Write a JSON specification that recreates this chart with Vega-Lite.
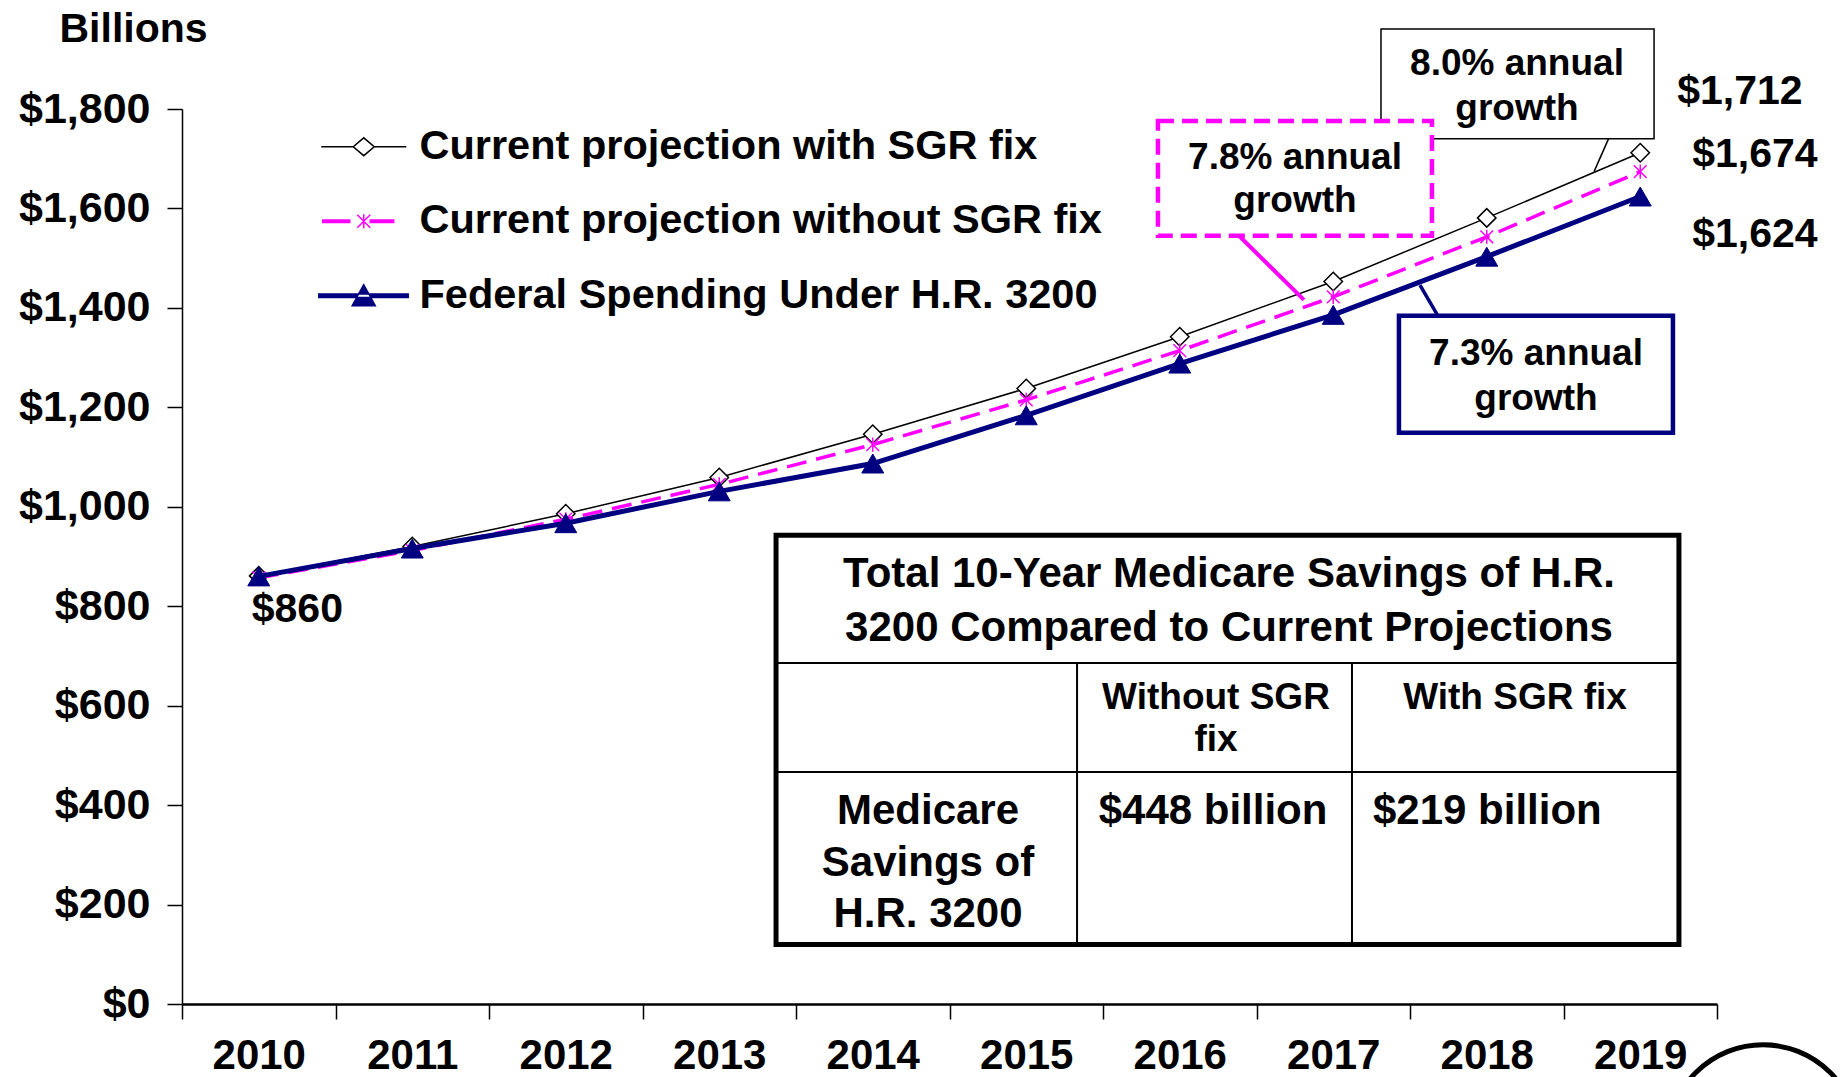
{
  "$schema": "https://vega.github.io/schema/vega-lite/v6.json",
  "width": 1535,
  "height": 895,
  "autosize": {"type": "none"},
  "padding": {"left": 182, "top": 109, "right": 126, "bottom": 73},
  "background": "white",
  "data": {"values": [
    {"year": 2010, "series": "Current projection with SGR fix", "value": 861},
    {"year": 2011, "series": "Current projection with SGR fix", "value": 920},
    {"year": 2012, "series": "Current projection with SGR fix", "value": 986},
    {"year": 2013, "series": "Current projection with SGR fix", "value": 1059},
    {"year": 2014, "series": "Current projection with SGR fix", "value": 1146},
    {"year": 2015, "series": "Current projection with SGR fix", "value": 1238},
    {"year": 2016, "series": "Current projection with SGR fix", "value": 1342},
    {"year": 2017, "series": "Current projection with SGR fix", "value": 1453},
    {"year": 2018, "series": "Current projection with SGR fix", "value": 1581},
    {"year": 2019, "series": "Current projection with SGR fix", "value": 1712},
    {"year": 2010, "series": "Current projection without SGR fix", "value": 857},
    {"year": 2011, "series": "Current projection without SGR fix", "value": 912},
    {"year": 2012, "series": "Current projection without SGR fix", "value": 975},
    {"year": 2013, "series": "Current projection without SGR fix", "value": 1045},
    {"year": 2014, "series": "Current projection without SGR fix", "value": 1125},
    {"year": 2015, "series": "Current projection without SGR fix", "value": 1215},
    {"year": 2016, "series": "Current projection without SGR fix", "value": 1314},
    {"year": 2017, "series": "Current projection without SGR fix", "value": 1422},
    {"year": 2018, "series": "Current projection without SGR fix", "value": 1543},
    {"year": 2019, "series": "Current projection without SGR fix", "value": 1674},
    {"year": 2010, "series": "Federal Spending Under H.R. 3200", "value": 860},
    {"year": 2011, "series": "Federal Spending Under H.R. 3200", "value": 916},
    {"year": 2012, "series": "Federal Spending Under H.R. 3200", "value": 967},
    {"year": 2013, "series": "Federal Spending Under H.R. 3200", "value": 1031},
    {"year": 2014, "series": "Federal Spending Under H.R. 3200", "value": 1087},
    {"year": 2015, "series": "Federal Spending Under H.R. 3200", "value": 1184},
    {"year": 2016, "series": "Federal Spending Under H.R. 3200", "value": 1288},
    {"year": 2017, "series": "Federal Spending Under H.R. 3200", "value": 1386},
    {"year": 2018, "series": "Federal Spending Under H.R. 3200", "value": 1503},
    {"year": 2019, "series": "Federal Spending Under H.R. 3200", "value": 1624}
  ]},
  "encoding": {
    "x": {
      "field": "year", "type": "quantitative",
      "scale": {"domain": [2009.5, 2019.5], "nice": false, "zero": false},
      "axis": {
        "title": null,
        "values": [2009.5, 2010.5, 2011.5, 2012.5, 2013.5, 2014.5, 2015.5, 2016.5, 2017.5, 2018.5, 2019.5],
        "labelExpr": "datum.value > 2019 ? '' : '' + (datum.value + 0.5)",
        "labelOffset": 76.75,
        "labelAlign": "center",
        "labelBaseline": "top",
        "labelPadding": 16,
        "labelFontSize": 42,
        "labelFontWeight": "bold",
        "labelFont": "Liberation Sans",
        "labelColor": "black",
        "labelFlush": false,
        "labelOverlap": false,
        "labelBound": false,
        "tickSize": 15,
        "tickWidth": 1.5,
        "tickColor": "black",
        "domainColor": "black",
        "domainWidth": 2.5,
        "grid": false
      }
    },
    "y": {
      "field": "value", "type": "quantitative",
      "scale": {"domain": [0, 1800], "nice": false},
      "axis": {
        "title": "Billions",
        "titleAngle": 0,
        "titleX": -123,
        "titleY": -80,
        "titleAlign": "left",
        "titleBaseline": "middle",
        "titleFontSize": 41,
        "titleFontWeight": "bold",
        "titleFont": "Liberation Sans",
        "titleColor": "black",
        "values": [0, 200, 400, 600, 800, 1000, 1200, 1400, 1600, 1800],
        "format": "$,d",
        "labelFontSize": 43,
        "labelFontWeight": "bold",
        "labelFont": "Liberation Sans",
        "labelColor": "black",
        "labelPadding": 17,
        "labelFlush": false,
        "labelOverlap": false,
        "labelBound": false,
        "tickSize": 15,
        "tickWidth": 1.5,
        "tickColor": "black",
        "domainColor": "black",
        "domainWidth": 1.5,
        "grid": false
      }
    }
  },
  "layer": [
    {
      "transform": [{"filter": "datum.series === 'Current projection with SGR fix'"}],
      "mark": {"type": "line", "color": "black", "strokeWidth": 1.5}
    },
    {
      "transform": [{"filter": "datum.series === 'Current projection with SGR fix'"}],
      "mark": {"type": "point", "shape": "diamond", "size": 340, "filled": true, "fill": "white", "stroke": "black", "strokeWidth": 1.5, "opacity": 1}
    },
    {
      "transform": [{"filter": "datum.series === 'Current projection without SGR fix'"}],
      "mark": {"type": "line", "color": "#FF00FF", "strokeWidth": 3.5, "strokeDash": [20, 10]}
    },
    {
      "transform": [{"filter": "datum.series === 'Current projection without SGR fix'"}],
      "mark": {"type": "point", "shape": "M0,-1V1M-0.9,-0.9L0.9,0.9M-0.9,0.9L0.9,-0.9", "size": 200, "filled": false, "stroke": "#FF00FF", "strokeWidth": 1.5, "opacity": 1}
    },
    {
      "transform": [{"filter": "datum.series === 'Federal Spending Under H.R. 3200'"}],
      "mark": {"type": "line", "color": "#000080", "strokeWidth": 5}
    },
    {
      "transform": [{"filter": "datum.series === 'Federal Spending Under H.R. 3200'"}],
      "mark": {"type": "point", "shape": "triangle-up", "size": 480, "filled": true, "fill": "#000080", "stroke": "#000080", "strokeWidth": 1, "opacity": 1}
    },
    {
      "transform": [{"filter": "datum.year === 2010 && datum.series === 'Federal Spending Under H.R. 3200'"}],
      "mark": {"type": "text", "align": "left", "baseline": "middle", "dx": -7, "dy": 34, "fontSize": 41, "fontWeight": "bold", "font": "Liberation Sans", "color": "black"},
      "encoding": {"text": {"field": "value", "type": "quantitative", "format": "$,d"}}
    },
    {
      "transform": [{"filter": "datum.year === 2019 && datum.series === 'Current projection with SGR fix'"}],
      "mark": {"type": "text", "align": "left", "baseline": "middle", "dx": 37, "dy": -61, "fontSize": 41, "fontWeight": "bold", "font": "Liberation Sans", "color": "black"},
      "encoding": {"text": {"field": "value", "type": "quantitative", "format": "$,d"}}
    },
    {
      "transform": [{"filter": "datum.year === 2019 && datum.series === 'Current projection without SGR fix'"}],
      "mark": {"type": "text", "align": "left", "baseline": "middle", "dx": 52, "dy": -17, "fontSize": 41, "fontWeight": "bold", "font": "Liberation Sans", "color": "black"},
      "encoding": {"text": {"field": "value", "type": "quantitative", "format": "$,d"}}
    },
    {
      "transform": [{"filter": "datum.year === 2019 && datum.series === 'Federal Spending Under H.R. 3200'"}],
      "mark": {"type": "text", "align": "left", "baseline": "middle", "dx": 52, "dy": 38, "fontSize": 41, "fontWeight": "bold", "font": "Liberation Sans", "color": "black"},
      "encoding": {"text": {"field": "value", "type": "quantitative", "format": "$,d"}}
    },
    {
      "transform": [{"filter": "datum.year === 2010 && datum.series === 'Federal Spending Under H.R. 3200'"}],
      "mark": {"type": "rule", "color": "black", "strokeWidth": 1.5},
      "encoding": {
        "x": {"datum": 2018.796, "type": "quantitative"}, "y": {"datum": 1742, "type": "quantitative"},
        "x2": {"datum": 2018.699}, "y2": {"datum": 1674}
      }
    },
    {
      "transform": [{"filter": "datum.year === 2010 && datum.series === 'Federal Spending Under H.R. 3200'"}],
      "mark": {"type": "rect", "fill": "white", "stroke": "black", "strokeWidth": 1.5},
      "encoding": {
        "x": {"datum": 2017.311, "type": "quantitative"}, "x2": {"datum": 2019.09},
        "y": {"datum": 1961, "type": "quantitative"}, "y2": {"datum": 1740}
      }
    },
    {
      "transform": [{"filter": "datum.year === 2010 && datum.series === 'Federal Spending Under H.R. 3200'"}],
      "mark": {"type": "text", "text": ["8.0% annual", "growth"], "align": "center", "baseline": "middle", "lineHeight": 45, "fontSize": 37, "fontWeight": "bold", "font": "Liberation Sans", "color": "black"},
      "encoding": {
        "x": {"datum": 2018.197, "type": "quantitative"}, "y": {"datum": 1891, "type": "quantitative"}
      }
    },
    {
      "transform": [{"filter": "datum.year === 2010 && datum.series === 'Federal Spending Under H.R. 3200'"}],
      "mark": {"type": "rule", "color": "#FF00FF", "strokeWidth": 4},
      "encoding": {
        "x": {"datum": 2016.386, "type": "quantitative"}, "y": {"datum": 1545, "type": "quantitative"},
        "x2": {"datum": 2016.809}, "y2": {"datum": 1416}
      }
    },
    {
      "transform": [{"filter": "datum.year === 2010 && datum.series === 'Federal Spending Under H.R. 3200'"}],
      "mark": {"type": "rect", "fill": "white", "stroke": "#FF00FF", "strokeWidth": 4.5, "strokeDash": [16, 8]},
      "encoding": {
        "x": {"datum": 2015.858, "type": "quantitative"}, "x2": {"datum": 2017.643},
        "y": {"datum": 1776, "type": "quantitative"}, "y2": {"datum": 1545}
      }
    },
    {
      "transform": [{"filter": "datum.year === 2010 && datum.series === 'Federal Spending Under H.R. 3200'"}],
      "mark": {"type": "text", "text": ["7.8% annual", "growth"], "align": "center", "baseline": "middle", "lineHeight": 43, "fontSize": 37, "fontWeight": "bold", "font": "Liberation Sans", "color": "black"},
      "encoding": {
        "x": {"datum": 2016.751, "type": "quantitative"}, "y": {"datum": 1702, "type": "quantitative"}
      }
    },
    {
      "transform": [{"filter": "datum.year === 2010 && datum.series === 'Federal Spending Under H.R. 3200'"}],
      "mark": {"type": "rule", "color": "#000080", "strokeWidth": 3.5},
      "encoding": {
        "x": {"datum": 2017.565, "type": "quantitative"}, "y": {"datum": 1446, "type": "quantitative"},
        "x2": {"datum": 2017.682}, "y2": {"datum": 1384}
      }
    },
    {
      "transform": [{"filter": "datum.year === 2010 && datum.series === 'Federal Spending Under H.R. 3200'"}],
      "mark": {"type": "rect", "fill": "white", "stroke": "#000080", "strokeWidth": 4.5},
      "encoding": {
        "x": {"datum": 2017.428, "type": "quantitative"}, "x2": {"datum": 2019.213},
        "y": {"datum": 1384, "type": "quantitative"}, "y2": {"datum": 1149}
      }
    },
    {
      "transform": [{"filter": "datum.year === 2010 && datum.series === 'Federal Spending Under H.R. 3200'"}],
      "mark": {"type": "text", "text": ["7.3% annual", "growth"], "align": "center", "baseline": "middle", "lineHeight": 45, "fontSize": 37, "fontWeight": "bold", "font": "Liberation Sans", "color": "black"},
      "encoding": {
        "x": {"datum": 2018.321, "type": "quantitative"}, "y": {"datum": 1307, "type": "quantitative"}
      }
    },
    {
      "transform": [{"filter": "datum.year === 2010 && datum.series === 'Federal Spending Under H.R. 3200'"}],
      "mark": {"type": "rect", "fill": "white", "stroke": "black", "strokeWidth": 5},
      "encoding": {
        "x": {"datum": 2013.37, "type": "quantitative"}, "x2": {"datum": 2019.252},
        "y": {"datum": 942.5, "type": "quantitative"}, "y2": {"datum": 119.7}
      }
    },
    {
      "transform": [{"filter": "datum.year === 2010 && datum.series === 'Federal Spending Under H.R. 3200'"}],
      "mark": {"type": "rule", "color": "black", "strokeWidth": 2},
      "encoding": {
        "x": {"datum": 2013.37, "type": "quantitative"}, "x2": {"datum": 2019.252},
        "y": {"datum": 686, "type": "quantitative"}
      }
    },
    {
      "transform": [{"filter": "datum.year === 2010 && datum.series === 'Federal Spending Under H.R. 3200'"}],
      "mark": {"type": "rule", "color": "black", "strokeWidth": 2},
      "encoding": {
        "x": {"datum": 2013.37, "type": "quantitative"}, "x2": {"datum": 2019.252},
        "y": {"datum": 466.7, "type": "quantitative"}
      }
    },
    {
      "transform": [{"filter": "datum.year === 2010 && datum.series === 'Federal Spending Under H.R. 3200'"}],
      "mark": {"type": "rule", "color": "black", "strokeWidth": 2},
      "encoding": {
        "x": {"datum": 2015.331, "type": "quantitative"},
        "y": {"datum": 686, "type": "quantitative"}, "y2": {"datum": 119.7}
      }
    },
    {
      "transform": [{"filter": "datum.year === 2010 && datum.series === 'Federal Spending Under H.R. 3200'"}],
      "mark": {"type": "rule", "color": "black", "strokeWidth": 2},
      "encoding": {
        "x": {"datum": 2017.122, "type": "quantitative"},
        "y": {"datum": 686, "type": "quantitative"}, "y2": {"datum": 119.7}
      }
    },
    {
      "transform": [{"filter": "datum.year === 2010 && datum.series === 'Federal Spending Under H.R. 3200'"}],
      "mark": {"type": "text", "text": ["Total 10-Year Medicare Savings of H.R.", "3200 Compared to Current Projections"], "align": "center", "baseline": "middle", "lineHeight": 54, "fontSize": 42, "fontWeight": "bold", "font": "Liberation Sans", "color": "black"},
      "encoding": {"x": {"datum": 2016.321, "type": "quantitative"}, "y": {"datum": 864, "type": "quantitative"}}
    },
    {
      "transform": [{"filter": "datum.year === 2010 && datum.series === 'Federal Spending Under H.R. 3200'"}],
      "mark": {"type": "text", "text": ["Without SGR", "fix"], "align": "center", "baseline": "middle", "lineHeight": 42, "fontSize": 37, "fontWeight": "bold", "font": "Liberation Sans", "color": "black"},
      "encoding": {"x": {"datum": 2016.236, "type": "quantitative"}, "y": {"datum": 615, "type": "quantitative"}}
    },
    {
      "transform": [{"filter": "datum.year === 2010 && datum.series === 'Federal Spending Under H.R. 3200'"}],
      "mark": {"type": "text", "text": "With SGR fix", "align": "center", "baseline": "middle", "fontSize": 37, "fontWeight": "bold", "font": "Liberation Sans", "color": "black"},
      "encoding": {"x": {"datum": 2018.184, "type": "quantitative"}, "y": {"datum": 615, "type": "quantitative"}}
    },
    {
      "transform": [{"filter": "datum.year === 2010 && datum.series === 'Federal Spending Under H.R. 3200'"}],
      "mark": {"type": "text", "text": ["Medicare", "Savings of", "H.R. 3200"], "align": "center", "baseline": "middle", "lineHeight": 51.5, "fontSize": 42, "fontWeight": "bold", "font": "Liberation Sans", "color": "black"},
      "encoding": {"x": {"datum": 2014.36, "type": "quantitative"}, "y": {"datum": 388, "type": "quantitative"}}
    },
    {
      "transform": [{"filter": "datum.year === 2010 && datum.series === 'Federal Spending Under H.R. 3200'"}],
      "mark": {"type": "text", "text": "$448 billion", "align": "center", "baseline": "middle", "fontSize": 42, "fontWeight": "bold", "font": "Liberation Sans", "color": "black"},
      "encoding": {"x": {"datum": 2016.217, "type": "quantitative"}, "y": {"datum": 388, "type": "quantitative"}}
    },
    {
      "transform": [{"filter": "datum.year === 2010 && datum.series === 'Federal Spending Under H.R. 3200'"}],
      "mark": {"type": "text", "text": "$219 billion", "align": "left", "baseline": "middle", "fontSize": 42, "fontWeight": "bold", "font": "Liberation Sans", "color": "black"},
      "encoding": {"x": {"datum": 2017.259, "type": "quantitative"}, "y": {"datum": 388, "type": "quantitative"}}
    },
    {
      "transform": [{"filter": "datum.year === 2010 && datum.series === 'Federal Spending Under H.R. 3200'"}],
      "mark": {"type": "point", "shape": "circle", "size": 36100, "filled": false, "stroke": "black", "strokeWidth": 5, "opacity": 1},
      "encoding": {"x": {"datum": 2019.8, "type": "quantitative"}, "y": {"datum": -273, "type": "quantitative"}}
    },
    {
      "transform": [{"filter": "datum.value < 0"}],
      "mark": {"type": "point", "filled": true, "opacity": 1, "strokeWidth": 1.5},
      "encoding": {
        "shape": {
          "field": "series", "type": "nominal",
          "scale": {
            "domain": ["Current projection with SGR fix", "Current projection without SGR fix", "Federal Spending Under H.R. 3200"],
            "range": [
              "M-2.43,0H-0.6M0.6,0H2.43M-0.6,0L0,-0.51L0.6,0L0,0.51Z",
              "M-2.34,-0.07H-0.8V0.07H-2.34ZM0.37,-0.07H1.71V0.07H0.37ZM0,-0.4V0.4M-0.37,-0.37L0.37,0.37M-0.37,0.37L0.37,-0.37",
              "M-2.57,-0.1H2.54V0.1H-2.57ZM0,-0.63L-0.66,0.57L0.66,0.57Z"
            ]
          },
          "legend": {
            "title": null,
            "orient": "none",
            "legendX": 161,
            "legendY": 17,
            "padding": 0,
            "labelFont": "Liberation Sans",
            "labelFontSize": 41.5,
            "labelFontWeight": "bold",
            "labelColor": "black",
            "labelOffset": 35,
            "labelLimit": 1200,
            "symbolSize": 1225,
            "symbolStrokeWidth": 1.5,
            "rowPadding": 31.5
          }
        },
        "fill": {
          "field": "series", "type": "nominal",
          "scale": {
            "domain": ["Current projection with SGR fix", "Current projection without SGR fix", "Federal Spending Under H.R. 3200"],
            "range": ["white", "#FF00FF", "#000080"]
          }
        },
        "stroke": {
          "field": "series", "type": "nominal",
          "scale": {
            "domain": ["Current projection with SGR fix", "Current projection without SGR fix", "Federal Spending Under H.R. 3200"],
            "range": ["black", "#FF00FF", "#000080"]
          }
        }
      }
    }
  ],
  "config": {
    "view": {"stroke": null},
    "font": "Liberation Sans"
  }
}
